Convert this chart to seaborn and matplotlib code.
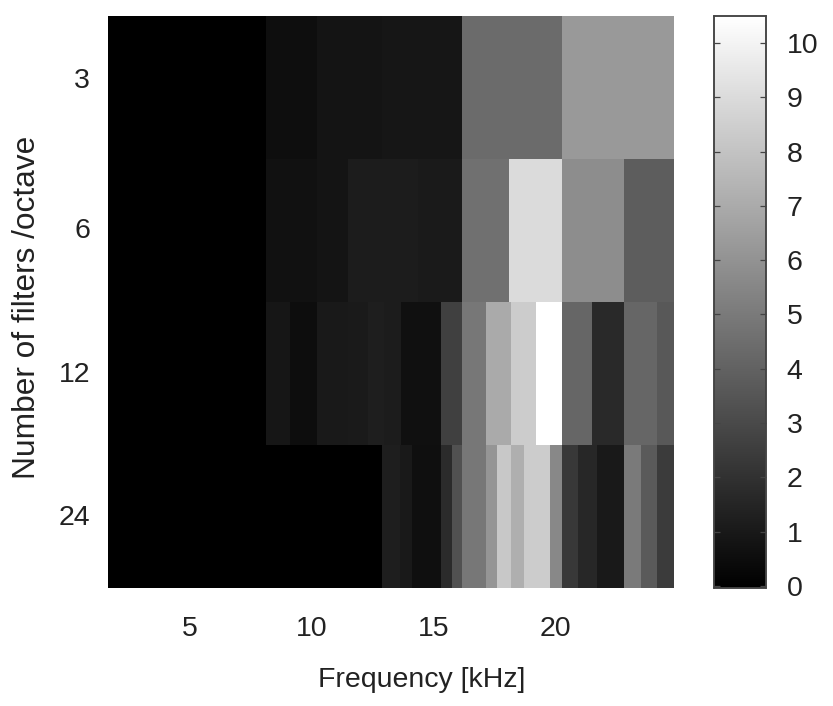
import numpy as np
import pandas as pd
import seaborn as sns
import matplotlib
matplotlib.use("Agg")
import matplotlib.pyplot as plt

W, H = 833, 706
plt.rcParams['font.family'] = ['Liberation Sans', 'DejaVu Sans']

row_labels = ["3", "6", "12", "24"]
freq_ticks = [5, 10, 15, 20]
cbar_ticks = list(range(0, 11))

# band edges in kHz and band values for each filter resolution
f_min, f_max = 1.64, 24.84
edges_3 = [1.64, 8.11, 10.2, 12.9, 16.15, 20.25, 24.84]
vals_3 = [0.0, 0.55, 0.8, 0.9, 4.4, 6.3]
edges_6 = [1.64, 8.11, 10.2, 11.47, 14.34, 16.15, 18.1, 20.25, 22.8, 24.84]
vals_6 = [0.0, 0.7, 0.8, 1.15, 1.05, 4.6, 9.0, 5.8, 3.8]
edges_12 = [1.64, 8.11, 9.1, 10.2, 11.47, 12.3, 12.97, 13.66, 15.3, 16.15,
            17.13, 18.15, 19.2, 20.25, 21.5, 22.8, 24.15, 24.84]
vals_12 = [0.0, 0.9, 0.5, 1.0, 1.05, 1.2, 1.15, 0.65, 2.6, 4.9, 7.0, 8.4, 10.5,
           4.2, 1.65, 4.2, 3.6]
edges_24 = [1.64, 12.9, 13.6, 14.1, 15.3, 15.75, 16.15, 17.13, 17.6, 18.15,
            18.7, 19.75, 20.25, 20.9, 21.7, 22.8, 23.5, 24.15, 24.84]
vals_24 = [0.0, 1.2, 1.0, 0.6, 1.75, 3.3, 4.9, 6.1, 8.2, 7.2, 8.4, 5.6, 2.3,
           1.6, 1.0, 5.0, 3.7, 2.4]

n_cols = 928
centers = f_min + (np.arange(n_cols) + 0.5) * (f_max - f_min) / n_cols
rows = []
for e, v in [(edges_3, vals_3), (edges_6, vals_6), (edges_12, vals_12), (edges_24, vals_24)]:
    idx = np.clip(np.searchsorted(e, centers) - 1, 0, len(v) - 1)
    rows.append(np.array(v)[idx])
matrix = pd.DataFrame(np.array(rows), index=row_labels)

def axrect(l, t, r, b):
    return [l / W, 1 - b / H, (r - l) / W, (b - t) / H]

fig = plt.figure(figsize=(W / 100, H / 100), dpi=100, facecolor="white")
ax = fig.add_axes(axrect(108, 16, 674, 588))
cax = fig.add_axes(axrect(714, 16, 766, 588))

sns.heatmap(matrix, ax=ax, cbar_ax=cax, cmap="gray", vmin=-0.04, vmax=10.5,
            xticklabels=False, yticklabels=False,
            cbar_kws={"ticks": cbar_ticks})

fs = 20.5
ink = "#222222"
ax.set_xticks([(f - f_min) / (f_max - f_min) * n_cols for f in freq_ticks])
ax.set_xticklabels(freq_ticks, fontsize=fs, color=ink, rotation=0)
ax.set_yticks([0.434, 1.48, 2.49, 3.49])
ax.set_yticklabels(row_labels, fontsize=fs, color=ink, rotation=0)
ax.tick_params(axis="x", length=0, pad=20)
ax.tick_params(axis="y", length=0, pad=13)
ax.set_xlabel("Frequency [kHz]", fontsize=20.5, color=ink, va="center")
ax.set_ylabel("Number of filters /octave", fontsize=22.8, color=ink, va="center")
ax.xaxis.set_label_coords(0.555, -0.161)
ax.yaxis.set_label_coords(-0.143, 0.491)

cax.tick_params(axis="y", which="both", left=True, right=True, direction="in",
                length=4.5, width=0.9, color="#444444", labelsize=fs, pad=15,
                labelcolor=ink)
for s in cax.spines.values():
    s.set_visible(True)
    s.set_color("#444444")
    s.set_linewidth(1.1)

fig.savefig("out.png", dpi=100, facecolor="white")
